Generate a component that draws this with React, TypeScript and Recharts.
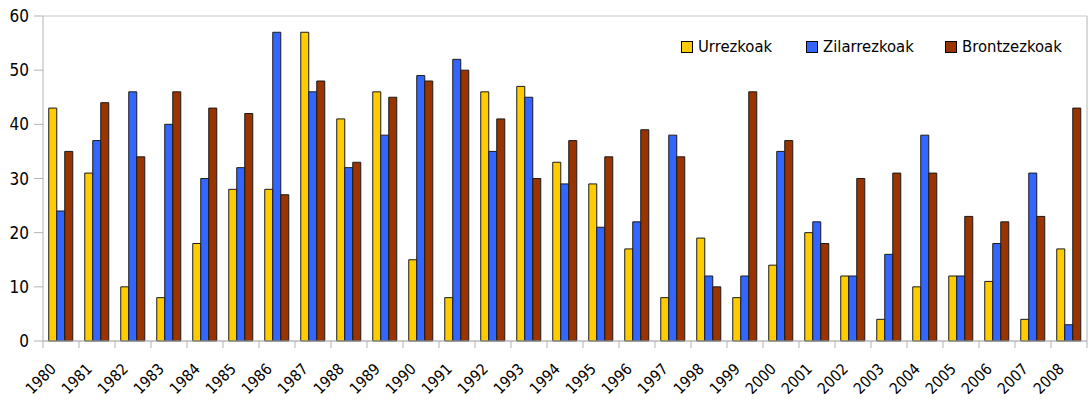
import React from 'react';
import { BarChart, Bar, XAxis, YAxis, CartesianGrid } from 'recharts';

const years = [
  '1980', '1981', '1982', '1983', '1984', '1985', '1986', '1987', '1988', '1989',
  '1990', '1991', '1992', '1993', '1994', '1995', '1996', '1997', '1998', '1999',
  '2000', '2001', '2002', '2003', '2004', '2005', '2006', '2007', '2008',
];
const urrezkoak = [43, 31, 10, 8, 18, 28, 28, 57, 41, 46, 15, 8, 46, 47, 33, 29, 17, 8, 19, 8, 14, 20, 12, 4, 10, 12, 11, 4, 17];
const zilarrezkoak = [24, 37, 46, 40, 30, 32, 57, 46, 32, 38, 49, 52, 35, 45, 29, 21, 22, 38, 12, 12, 35, 22, 12, 16, 38, 12, 18, 31, 3];
const brontzezkoak = [35, 44, 34, 46, 43, 42, 27, 48, 33, 45, 48, 50, 41, 30, 37, 34, 39, 34, 10, 46, 37, 18, 30, 31, 31, 23, 22, 23, 43];
const yTicks = [0, 10, 20, 30, 40, 50, 60];

const series = [
  { key: 'urre', name: 'Urrezkoak', color: '#ffcc00' },
  { key: 'zilar', name: 'Zilarrezkoak', color: '#3366ff' },
  { key: 'brontze', name: 'Brontzezkoak', color: '#993300' },
];

const data = years.map((year, i) => ({
  year,
  urre: urrezkoak[i],
  zilar: zilarrezkoak[i],
  brontze: brontzezkoak[i],
}));

const FONT = '"Liberation Sans Narrow", "DejaVu Sans Condensed", "Liberation Sans", sans-serif';
const AXIS = '#b3b3b3';

const YearTick = (props: any) => {
  const { x, y, payload, index } = props;
  const half = payload && payload.offset ? payload.offset : 18;
  const last = index === years.length - 1;
  const tx = x - 4;
  const ty = y + 21;
  return (
    <g>
      <line x1={x - half} y1={y - 8} x2={x - half} y2={y - 1} stroke={AXIS} />
      {last && <line x1={x + half} y1={y - 8} x2={x + half} y2={y - 1} stroke={AXIS} />}
      <text
        x={tx}
        y={ty}
        textAnchor="end"
        transform={`rotate(-45, ${tx}, ${ty})`}
        fontFamily={FONT}
        fontSize={15.5}
        fill="#000"
      >
        {payload.value}
      </text>
    </g>
  );
};

// legend sits over the plot, top right
const itemWidths = [125, 139, 140];

const LegendBox = () => (
  <div
    style={{
      position: 'absolute',
      top: 37,
      left: 681,
      display: 'flex',
      fontFamily: FONT,
      fontSize: 16.5,
      color: '#000',
    }}
  >
    {series.map((s, i) => (
      <div key={s.key} style={{ display: 'flex', alignItems: 'center', width: itemWidths[i] }}>
        <span
          style={{
            width: 10,
            height: 10,
            background: s.color,
            border: '1px solid #000',
            marginRight: 5,
            display: 'inline-block',
          }}
        />
        <span>{s.name}</span>
      </div>
    ))}
  </div>
);

export default function App() {
  return (
    <div style={{ position: 'absolute', left: 0, top: 0, width: 1089, height: 401, background: '#fff' }}>
      <BarChart
        width={1089}
        height={401}
        data={data}
        margin={{ top: 16, right: 0, left: 0, bottom: 8 }}
        barCategoryGap="16%"
        barGap={0}
      >
        <CartesianGrid vertical={false} stroke="#c8c8c8" />
        <XAxis
          dataKey="year"
          axisLine={{ stroke: AXIS }}
          tickLine={false}
          interval={0}
          height={52}
          tick={<YearTick />}
        />
        <YAxis
          yAxisId="left"
          domain={[0, 60]}
          ticks={yTicks}
          width={43}
          axisLine={{ stroke: AXIS }}
          tickLine={{ stroke: AXIS }}
          tickSize={9}
          tickMargin={5}
          tick={{ fontFamily: FONT, fontSize: 17, fill: '#000' }}
        />
        <YAxis
          yAxisId="right"
          orientation="right"
          domain={[0, 60]}
          width={2}
          tick={false}
          tickLine={false}
          axisLine={{ stroke: AXIS }}
        />
        {series.map((s) => (
          <Bar
            key={s.key}
            yAxisId="left"
            dataKey={s.key}
            name={s.name}
            fill={s.color}
            stroke="#1a1a1a"
            strokeWidth={1}
            isAnimationActive={false}
          />
        ))}
      </BarChart>
      <LegendBox />
    </div>
  );
}
